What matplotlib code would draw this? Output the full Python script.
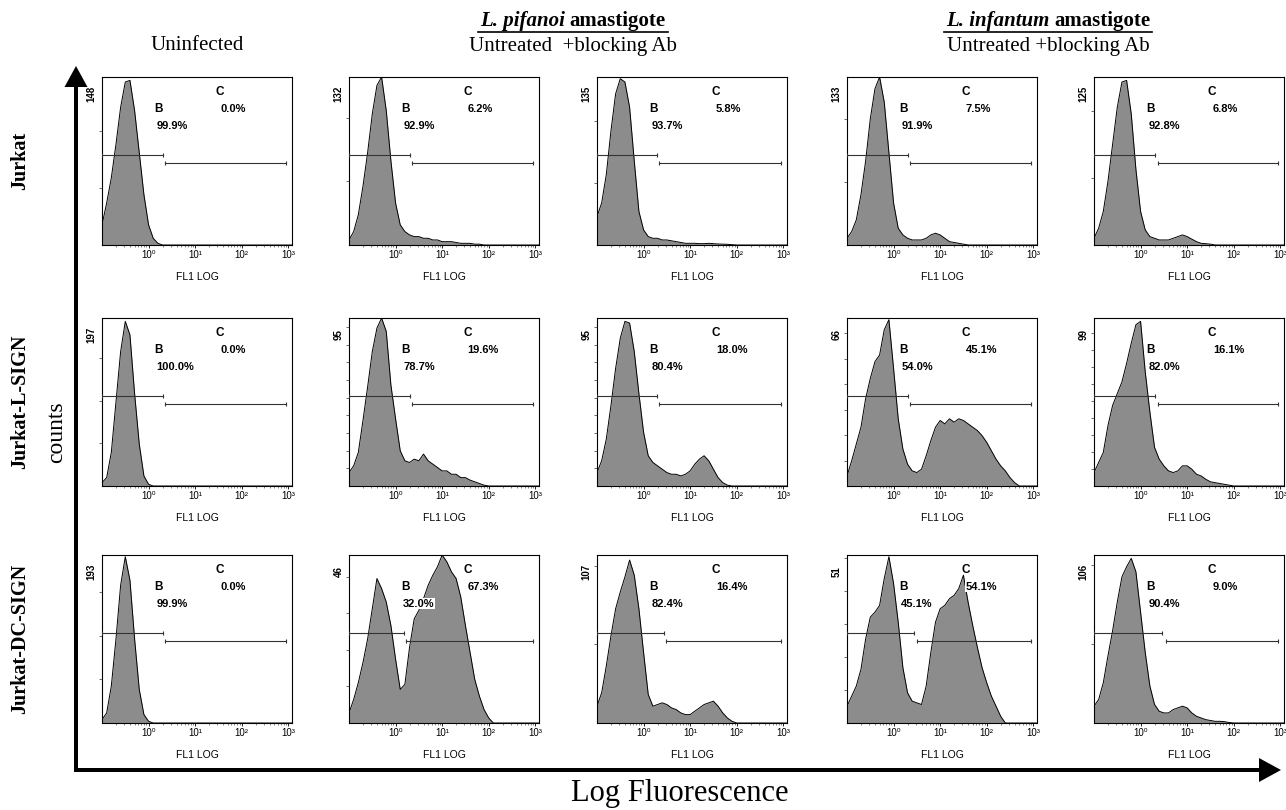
import numpy as np
import matplotlib.pyplot as plt
from matplotlib.patches import FancyArrow
from matplotlib.ticker import FixedLocator, NullFormatter

#+++ Data
# histogram channels: log10(FL1) starting at -1.0, step 0.1; heights are fraction of the panel's peak count
LOG_START, LOG_STEP = -1.0, 0.1

row_names = ["Jurkat", "Jurkat-L-SIGN", "Jurkat-DC-SIGN"]
peak_counts = [[148, 132, 135, 133, 125],
               [197, 95, 95, 66, 99],
               [193, 46, 107, 51, 106]]
pct_B = [["99.9%", "92.9%", "93.7%", "91.9%", "92.8%"],
         ["100.0%", "78.7%", "80.4%", "54.0%", "82.0%"],
         ["99.9%", "32.0%", "82.4%", "45.1%", "90.4%"]]
pct_C = [["0.0%", "6.2%", "5.8%", "7.5%", "6.8%"],
         ["0.0%", "19.6%", "18.0%", "45.1%", "16.1%"],
         ["0.0%", "67.3%", "16.4%", "54.1%", "9.0%"]]
# gate boundaries, log10(FL1)
gate_B_end = [[0.30, 0.32, 0.28, 0.30, 0.32],
              [0.30, 0.32, 0.28, 0.30, 0.32],
              [0.30, 0.19, 0.43, 0.43, 0.47]]
gate_C_start = [[0.36, 0.36, 0.34, 0.36, 0.38],
                [0.36, 0.36, 0.34, 0.36, 0.38],
                [0.36, 0.23, 0.49, 0.51, 0.55]]
gate_C_end = 2.95

jurkat_uninf = [.12, .25, .40, .60, .82, .97, .98, .80, .55, .30, .12, .04, .01]
jurkat_pif = [.03, .08, .18, .35, .55, .78, .95, 1.0, .80, .50, .25, .12, .08, .06, .05, .05, .04, .04,
              .03, .03, .02, .02, .02, .015, .01, .01, .01, .005, .005]
jurkat_pif_ab = [.17, .25, .42, .68, .90, .99, .97, .82, .50, .20, .09, .05, .04, .04, .03, .03, .025, .02,
                 .015, .01, .01, .01, .008, .008, .01, .008, .006, .005, .004, .002]
jurkat_inf = [.04, .08, .15, .30, .50, .75, .93, 1.0, .85, .55, .25, .10, .06, .04, .03, .03, .03, .04,
              .06, .07, .06, .04, .02, .015, .01, .005]
jurkat_inf_ab = [.04, .10, .20, .38, .60, .82, .97, .98, .78, .45, .20, .09, .05, .04, .03, .03, .03, .04,
                 .05, .06, .05, .035, .02, .01, .008, .005]

lsign_uninf = [.02, .05, .20, .50, .80, .98, .90, .55, .25, .06, .01]
lsign_pif = [.08, .12, .20, .39, .59, .80, .94, 1.0, .92, .60, .40, .21, .15, .14, .16, .15, .19, .15,
             .13, .11, .09, .09, .07, .07, .05, .05, .035, .025, .015, .005]
lsign_pif_ab = [.08, .15, .28, .48, .70, .88, .98, .97, .80, .55, .32, .18, .14, .12, .10, .08, .07, .07,
                .06, .07, .09, .13, .16, .18, .15, .10, .05, .02, .005]
lsign_inf = [.06, .15, .25, .35, .52, .64, .74, .78, .93, .99, .70, .40, .22, .13, .09, .08, .10, .18,
             .27, .35, .39, .37, .40, .38, .40, .39, .37, .35, .33, .30, .26, .21, .16, .12, .09, .05, .02]
lsign_inf_ab = [.08, .14, .20, .36, .48, .55, .62, .73, .85, .96, .98, .68, .44, .23, .16, .12, .09, .08,
                .09, .12, .12, .10, .07, .06, .04, .025, .02, .015, .01, .005]

dcsign_uninf = [.02, .06, .22, .50, .82, .99, .85, .50, .20, .05, .01]
dcsign_pif = [.06, .14, .24, .36, .50, .68, .86, .80, .72, .58, .38, .20, .23, .45, .62, .67, .74, .82,
              .88, .93, 1.0, .96, .90, .86, .75, .58, .42, .26, .16, .08, .03]
dcsign_pif_ab = [.10, .18, .34, .52, .68, .78, .87, .97, .88, .68, .42, .17, .10, .11, .12, .11, .09, .08,
                 .06, .05, .05, .07, .09, .11, .12, .13, .10, .06, .03, .01]
dcsign_inf = [.10, .16, .22, .32, .50, .63, .66, .70, .86, .99, .83, .60, .33, .18, .13, .12, .11, .22,
              .42, .60, .68, .70, .74, .76, .80, .88, .72, .58, .45, .33, .24, .16, .10, .04]
dcsign_inf_ab = [.10, .14, .24, .40, .55, .72, .87, .93, .98, .90, .66, .42, .22, .11, .07, .06, .06, .08,
                 .09, .10, .09, .06, .04, .03, .02, .015, .01, .01, .008, .003]

histograms = [[jurkat_uninf, jurkat_pif, jurkat_pif_ab, jurkat_inf, jurkat_inf_ab],
              [lsign_uninf, lsign_pif, lsign_pif_ab, lsign_inf, lsign_inf_ab],
              [dcsign_uninf, dcsign_pif, dcsign_pif_ab, dcsign_inf, dcsign_inf_ab]]
#---

#+++ Layout (pixel geometry of the reference, 1286x810)
W, H = 1286, 810
col_left = [102, 349, 597, 847, 1094]
row_base = [245, 486, 723]
PW, PH = 190, 168
SANS = ["Liberation Sans", "DejaVu Sans"]
SERIF = ["Liberation Serif", "DejaVu Serif"]
FILL = "#8c8c8c"
#---

fig = plt.figure(figsize=(W / 100, H / 100), dpi=100)
over = fig.add_axes([0, 0, 1, 1])
over.set_xlim(0, W)
over.set_ylim(H, 0)
over.axis("off")

n_ch = 42
logx = LOG_START + LOG_STEP * np.arange(n_ch)
xvals = 10 ** logx
label_box = dict(facecolor="white", edgecolor="none", pad=0.4)

for r in range(3):
    for c in range(5):
        ax = fig.add_axes([col_left[c] / W, (H - row_base[r]) / H, PW / W, PH / H])
        ymax = peak_counts[r][c]
        rel = np.zeros(n_ch)
        rel[:len(histograms[r][c])] = histograms[r][c]
        counts = rel * ymax
        ax.fill_between(xvals, counts, 0, color=FILL, lw=0, zorder=1)
        ax.plot(xvals, counts, color="black", lw=0.7, zorder=2)
        ax.set_xscale("log")
        ax.set_xlim(10 ** -1.0, 10 ** 3.08)
        ax.set_ylim(0, ymax)

        # gates
        yb, yc = 0.535 * ymax, 0.49 * ymax
        ax.plot([10 ** LOG_START, 10 ** gate_B_end[r][c]], [yb, yb], color="#333333", lw=0.8,
                marker="|", ms=3, mew=0.8, zorder=3)
        ax.plot([10 ** gate_C_start[r][c], 10 ** gate_C_end], [yc, yc], color="#333333", lw=0.8,
                marker="|", ms=3, mew=0.8, zorder=3)

        tkw = dict(transform=ax.transAxes, family=SANS, weight="bold", zorder=4, ha="left", va="center")
        ax.text(0.275, 0.81, "B", fontsize=8.5, **tkw)
        ax.text(0.285, 0.71, pct_B[r][c], fontsize=8, bbox=label_box, **tkw)
        ax.text(0.6, 0.91, "C", fontsize=8.5, **tkw)
        ax.text(0.625, 0.81, pct_C[r][c], fontsize=8, bbox=label_box, **tkw)
        ax.text(-0.055, 0.9, str(ymax), fontsize=7, rotation=90, ha="center", va="center",
                transform=ax.transAxes, family=SANS, weight="bold")

        ax.xaxis.set_major_locator(FixedLocator([1, 10, 100, 1000]))
        ax.set_xticklabels(["10⁰", "10¹", "10²", "10³"], family=SANS, fontsize=7)
        ax.xaxis.set_minor_locator(FixedLocator([k * 10.0 ** e for e in range(-1, 4) for k in range(2, 10)
                                                 if k * 10.0 ** e < 10 ** 3.08]))
        ax.xaxis.set_minor_formatter(NullFormatter())
        ax.tick_params(axis="x", which="major", length=2, width=0.6, pad=1.5, colors="black")
        ax.tick_params(axis="x", which="minor", length=1.5, width=0.5, color="#555555")
        step = 50 if ymax >= 100 else 10
        ax.yaxis.set_major_locator(FixedLocator(np.arange(step, ymax, step)))
        ax.set_yticklabels([])
        ax.tick_params(axis="y", length=2.5, width=0.6, color="#555555")
        ax.set_xlabel("FL1 LOG", family=SANS, fontsize=7.5, labelpad=9)
        for sp in ax.spines.values():
            sp.set_linewidth(0.8)

    over.text(20, row_base[r] - PH / 2, row_names[r], rotation=90, ha="center", va="center",
              family=SERIF, weight="bold", fontsize=14.5)

# axis arrows
over.add_patch(FancyArrow(76, 771, 0, -705, width=4, head_width=23, head_length=21,
                          length_includes_head=True, color="black", lw=0))
over.add_patch(FancyArrow(74, 770, 1207, 0, width=4, head_width=24, head_length=22,
                          length_includes_head=True, color="black", lw=0))
over.text(57, 432, "counts", rotation=90, ha="center", va="center", family=SERIF, fontsize=17)
over.text(680, 793, "Log Fluorescence", ha="center", va="center", family=SERIF, fontsize=22)

# column headers
over.text(197, 46, "Uninfected", ha="center", va="center", family=SERIF, fontsize=15)

fig.canvas.draw()
renderer = fig.canvas.get_renderer()


def header(cx, species, second):
    t1 = over.text(0, 21, species, ha="left", va="center", family=SERIF, fontsize=15,
                   weight="bold", style="italic")
    t2 = over.text(0, 21, "amastigote", ha="left", va="center", family=SERIF, fontsize=15, weight="bold")
    w1 = t1.get_window_extent(renderer).width
    w2 = t2.get_window_extent(renderer).width
    gap = 5
    x0 = cx - (w1 + gap + w2) / 2
    t1.set_x(x0)
    t2.set_x(x0 + w1 + gap)
    over.plot([x0 - 2, x0 + w1 + gap + w2 + 2], [32, 32], color="black", lw=1.2)
    over.text(cx, 46, second, ha="center", va="center", family=SERIF, fontsize=15)


header(573, "L. pifanoi", "Untreated  +blocking Ab")
header(1048, "L. infantum", "Untreated +blocking Ab")

fig.savefig("out.png", dpi=100)
